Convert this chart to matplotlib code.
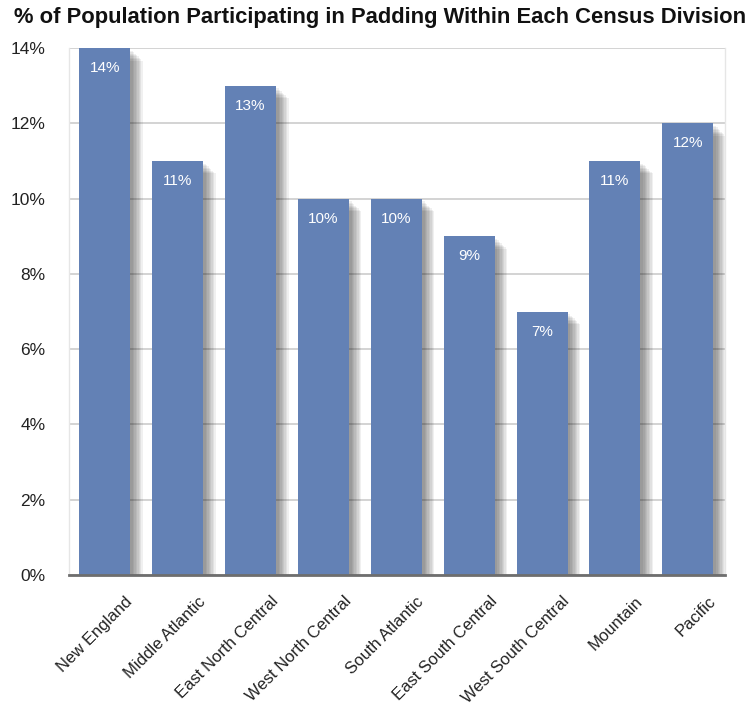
import matplotlib
matplotlib.use("Agg")
import matplotlib.pyplot as plt
import matplotlib.patheffects as pe
import matplotlib.transforms as mtransforms
import numpy as np

divisions = ["New England", "Middle Atlantic", "East North Central",
             "West North Central", "South Atlantic", "East South Central",
             "West South Central", "Mountain", "Pacific"]
pct = [14, 11, 13, 10, 10, 9, 7, 11, 12]
yticks = [0, 2, 4, 6, 8, 10, 12, 14]

plt.rcParams['font.family'] = ['Liberation Sans', 'DejaVu Sans']

fig = plt.figure(figsize=(7.53, 7.13), dpi=100)
ax = fig.add_axes([69/753, 1 - 575/713, 656/753, 527/713])

x = np.arange(len(divisions))

# soft drop shadow built from a few stacked offsets
shadow = [pe.SimplePatchShadow(offset=(o, -o), shadow_rgbFace='black', alpha=0.06)
          for o in (2, 3, 4, 5, 6, 7, 8, 9)]
bars = ax.bar(x, pct, width=0.7, color='#6381b5', zorder=3)
for b in bars:
    b.set_path_effects(shadow + [pe.Normal()])

for xi, v in zip(x, pct):
    ax.annotate(f"{v}%", (xi, v), xytext=(0, -20), textcoords='offset pixels',
                ha='center', va='center', color='white', fontsize=11, zorder=4)

ax.set_xlim(-0.49, 8.51)
ax.set_ylim(0, 14)
ax.set_yticks(yticks)
ax.set_yticklabels([f"{t}%" for t in yticks])
ax.yaxis.grid(True, color='#cccccc', linewidth=1.2, zorder=0)
ax.set_axisbelow(True)

for s in ['left', 'right']:
    ax.spines[s].set_color('#e6e6e6')
    ax.spines[s].set_linewidth(1)
ax.spines['top'].set_visible(False)
ax.spines['bottom'].set_color('#6e6e6e')
ax.spines['bottom'].set_linewidth(2)
ax.spines['bottom'].set_zorder(5)

ax.tick_params(axis='both', length=0, colors='#222222')
ax.tick_params(axis='y', pad=17, labelsize=12.5)
ax.tick_params(axis='x', labelsize=12)
ax.set_xticks(x)
ax.set_xticklabels(divisions, rotation=45, ha='right', rotation_mode='anchor')
shift = mtransforms.ScaledTranslation(20/100, -14/100, fig.dpi_scale_trans)
for lbl in ax.get_xticklabels():
    lbl.set_transform(lbl.get_transform() + shift)

fig.text(380/753, 1 - 18/713, "% of Population Participating in Padding Within Each Census Division",
         ha='center', va='center', fontsize=15.8, fontweight='bold', color='#111111')

fig.savefig("out.png", dpi=100)
